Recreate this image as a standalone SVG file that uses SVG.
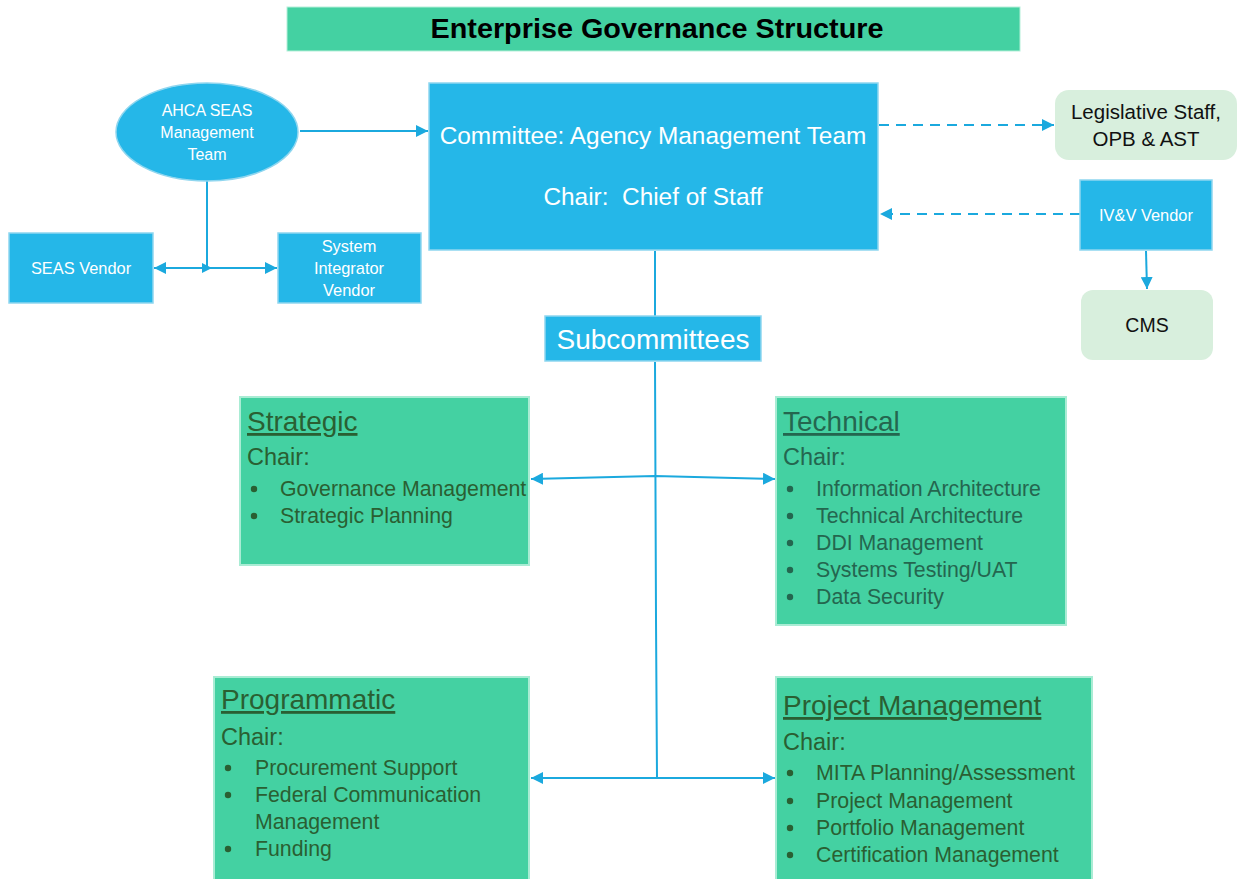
<svg xmlns="http://www.w3.org/2000/svg" width="1243" height="879" viewBox="0 0 1243 879">
<defs>
<style>
.blue{fill:#25B7E8;stroke:#8fd6ef;stroke-width:1.5}
.grn{fill:#44D1A2;stroke:#a9ecd4;stroke-width:2}
.pale{fill:#D8EFDD}
.wt{font-family:"Liberation Sans",Arial,sans-serif;fill:#ffffff;text-anchor:middle}
.bk{font-family:"Liberation Sans",Arial,sans-serif;fill:#111;text-anchor:middle}
.sc{font-family:"Liberation Sans",Arial,sans-serif;fill:#2a5f32}
.tc{font-family:"Liberation Sans",Arial,sans-serif;fill:#24664f}
.hd{font-size:28px;text-decoration:underline}
.ch{font-size:23.5px}
.it{font-size:21.3px}
.ln{fill:none;stroke:#1BA9DE;stroke-width:2}
.dash{stroke-dasharray:10 7}
</style>
<marker id="ah" viewBox="0 0 10 10" refX="10" refY="5" markerWidth="12" markerHeight="12" markerUnits="userSpaceOnUse" orient="auto-start-reverse">
<path d="M0,0 L10,5 L0,10 z" fill="#1BA9DE"/>
</marker>
</defs>
<rect width="1243" height="879" fill="#ffffff"/>

<g id="title">
<rect x="287" y="7" width="733" height="44" fill="#44D1A2" stroke="#b5efd9" stroke-width="1"/>
<text x="657" y="38" font-family="Liberation Sans,Arial,sans-serif" font-weight="bold" font-size="28" text-anchor="middle" fill="#000" textLength="453" lengthAdjust="spacingAndGlyphs">Enterprise Governance Structure</text>
</g>

<g id="connectors">
<line class="ln" x1="300" y1="131" x2="428" y2="131" marker-end="url(#ah)"/>
<polyline class="ln" points="207,181 207,268"/>
<line class="ln" x1="154" y1="268" x2="277" y2="268" marker-start="url(#ah)" marker-end="url(#ah)"/>
<path d="M202,263 L212,268 L202,273 z" fill="#1BA9DE"/>
<line class="ln dash" x1="879" y1="125" x2="1054" y2="125" marker-end="url(#ah)"/>
<line class="ln dash" x1="1080" y1="214" x2="880" y2="214" marker-end="url(#ah)"/>
<line class="ln" x1="1146" y1="251" x2="1147" y2="289" marker-end="url(#ah)"/>
<line class="ln" x1="655" y1="251" x2="655" y2="316"/>
<polyline class="ln" points="655,362 656,620 657,778"/>
<polyline class="ln" points="531,479 655,476 775,479" marker-start="url(#ah)" marker-end="url(#ah)"/>
<line class="ln" x1="531" y1="778" x2="775" y2="778" marker-start="url(#ah)" marker-end="url(#ah)"/>
</g>

<g id="ahca">
<ellipse cx="207" cy="132" rx="91" ry="49" fill="#25B7E8" stroke="#8fd6ef" stroke-width="1.5"/>
<text class="wt" font-size="16"><tspan x="207" y="116">AHCA SEAS</tspan><tspan x="207" y="138">Management</tspan><tspan x="207" y="160">Team</tspan></text>
</g>

<g id="committee">
<rect class="blue" x="429" y="83" width="449" height="167"/>
<text class="wt" x="653" y="144" font-size="24.4">Committee: Agency Management Team</text>
<text class="wt" x="653" y="205" font-size="24.4" xml:space="preserve">Chair:  Chief of Staff</text>
</g>

<g id="seas-vendor">
<rect class="blue" x="9" y="233" width="144" height="70"/>
<text class="wt" x="81" y="274" font-size="16.4">SEAS Vendor</text>
</g>

<g id="system-integrator">
<rect class="blue" x="278" y="233" width="143" height="70"/>
<text class="wt" font-size="16.4"><tspan x="349" y="252">System</tspan><tspan x="349" y="274">Integrator</tspan><tspan x="349" y="296">Vendor</tspan></text>
</g>

<g id="legislative">
<rect class="pale" x="1055" y="90" width="182" height="70" rx="14"/>
<text class="bk" font-size="20.5"><tspan x="1146" y="119">Legislative Staff,</tspan><tspan x="1146" y="146">OPB &amp; AST</tspan></text>
</g>

<g id="ivv">
<rect class="blue" x="1080" y="180" width="132" height="70"/>
<text class="wt" x="1146" y="221" font-size="16.4">IV&amp;V Vendor</text>
</g>

<g id="cms">
<rect class="pale" x="1081" y="290" width="132" height="70" rx="12"/>
<text class="bk" x="1147" y="332" font-size="19.5">CMS</text>
</g>

<g id="subcommittees">
<rect class="blue" x="545" y="316" width="216" height="45"/>
<text class="wt" x="653" y="349" font-size="28">Subcommittees</text>
</g>

<g id="strategic">
<rect class="grn" x="240" y="397" width="289" height="168"/>
<text class="sc hd" x="247" y="431">Strategic</text>
<text class="sc ch" x="247" y="465">Chair:</text>
<g class="sc it">
<circle cx="254" cy="489" r="3.2" fill="#2a5f32"/><text x="280" y="496">Governance Management</text>
<circle cx="254" cy="516" r="3.2" fill="#2a5f32"/><text x="280" y="523">Strategic Planning</text>
</g>
</g>

<g id="technical">
<rect class="grn" x="776" y="397" width="290" height="228"/>
<text class="tc hd" x="783" y="431">Technical</text>
<text class="tc ch" x="783" y="465">Chair:</text>
<g class="tc it">
<circle cx="790" cy="489" r="3.2" fill="#24664f"/><text x="816" y="496">Information Architecture</text>
<circle cx="790" cy="516" r="3.2" fill="#24664f"/><text x="816" y="523">Technical Architecture</text>
<circle cx="790" cy="543" r="3.2" fill="#24664f"/><text x="816" y="550">DDI Management</text>
<circle cx="790" cy="570" r="3.2" fill="#24664f"/><text x="816" y="577">Systems Testing/UAT</text>
<circle cx="790" cy="597" r="3.2" fill="#24664f"/><text x="816" y="604">Data Security</text>
</g>
</g>

<g id="programmatic">
<rect class="grn" x="214" y="677" width="315" height="210"/>
<text class="sc hd" x="221" y="709">Programmatic</text>
<text class="sc ch" x="221" y="745">Chair:</text>
<g class="sc it">
<circle cx="228" cy="768" r="3.2" fill="#2a5f32"/><text x="255" y="775">Procurement Support</text>
<circle cx="228" cy="795" r="3.2" fill="#2a5f32"/><text x="255" y="802">Federal Communication</text>
<text x="255" y="829">Management</text>
<circle cx="228" cy="849" r="3.2" fill="#2a5f32"/><text x="255" y="856">Funding</text>
</g>
</g>

<g id="project-management">
<rect class="grn" x="776" y="677" width="316" height="210"/>
<text class="sc hd" x="783" y="715">Project Management</text>
<text class="sc ch" x="783" y="750">Chair:</text>
<g class="sc it">
<circle cx="790" cy="773" r="3.2" fill="#2a5f32"/><text x="816" y="780">MITA Planning/Assessment</text>
<circle cx="790" cy="801" r="3.2" fill="#2a5f32"/><text x="816" y="808">Project Management</text>
<circle cx="790" cy="828" r="3.2" fill="#2a5f32"/><text x="816" y="835">Portfolio Management</text>
<circle cx="790" cy="855" r="3.2" fill="#2a5f32"/><text x="816" y="862">Certification Management</text>
</g>
</g>
</svg>
